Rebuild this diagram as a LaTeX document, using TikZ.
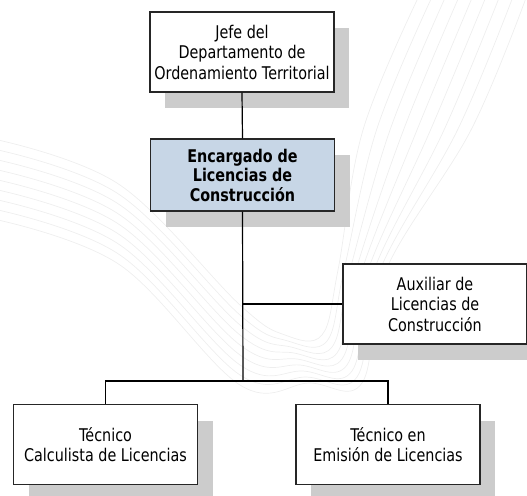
\documentclass[tikz,border=0pt]{standalone}
\usepackage{fontspec}
\setmainfont{DejaVu Sans}[FakeStretch=0.82]
\usetikzlibrary{shadows}
\definecolor{sombra}{RGB}{204,204,204}
\definecolor{azulclaro}{RGB}{199,214,230}
\definecolor{marcaagua}{RGB}{238,238,238}
\tikzset{
  puesto/.style={draw=black!85, line width=1.2pt, fill=white, align=center,
    minimum width=184pt, minimum height=80pt, inner sep=1pt,
    font=\fontsize{17.5}{20.5}\selectfont,
    drop shadow={shadow xshift=15pt, shadow yshift=-16pt, fill=sombra, opacity=1}},
  jefatura/.style={puesto, fill=azulclaro, minimum height=72pt,
    font=\fontsize{17.5}{19.5}\selectfont\bfseries},
  enlace/.style={line width=1.2pt, black},
  remolino/.style={draw=marcaagua, line width=0.7pt}
}
\begin{document}
\begin{tikzpicture}[x=1pt, y=-1pt]
  \useasboundingbox (0,0) rectangle (527,495);
  \clip (0,0) rectangle (527,495);
  % marca de agua
  \foreach \k in {0,...,8}
    \draw[remolino] plot[smooth, tension=0.6] coordinates {
      ({418+13.5*\k},-2) ({363+13.5*\k},130) ({338+6*\k},270)
      ({322+5*\k},{335+6*\k}) ({285+3*\k},{335+6*\k}) (240,{305+10*\k})
      (120,{185+10*\k}) (-2,{140+10*\k})};
  % puestos
  \node[puesto] (jefe) at (242,52) {Jefe del\\Departamento de\\Ordenamiento Territorial};
  \node[jefatura] (encargado) at (242.5,175) {Encargado de\\Licencias de\\Construcción};
  \node[puesto] (auxiliar) at (435,304) {Auxiliar de\\Licencias de\\Construcción};
  \node[puesto] (calculista) at (105.5,444.5) {Técnico\\Calculista de Licencias};
  \node[puesto] (emision) at (388,444.5) {Técnico en\\Emisión de Licencias};
  % enlaces
  \coordinate (nudo) at (243,381);
  \draw[enlace] (jefe.south) -- (encargado.north);
  \draw[enlace] (encargado.south) -- (nudo);
  \draw[enlace] (encargado.south |- auxiliar.west) -- (auxiliar.west);
  \draw[enlace] (calculista.north) |- (nudo) -| (emision.north);
\end{tikzpicture}
\end{document}
